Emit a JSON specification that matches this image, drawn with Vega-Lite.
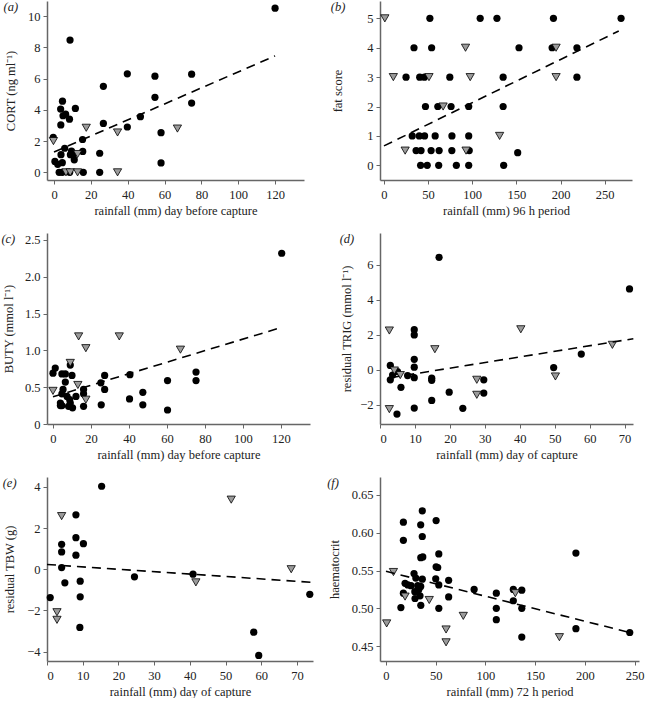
{
  "$schema": "https://vega.github.io/schema/vega-lite/v6.json",
  "padding": {"left": 1, "top": 0, "right": 0, "bottom": 0},
  "background": "white",
  "columns": 2,
  "spacing": {"row": 15, "column": 10},
  "datasets": {
    "a": [
      {"x":120,"y":10.5,"g":"c"},{"x":8.7,"y":8.46,"g":"c"},{"x":26.8,"y":5.5,"g":"c"},{"x":39.8,"y":6.3,"g":"c"},{"x":54.8,"y":6.15,"g":"c"},{"x":74.7,"y":6.28,"g":"c"},{"x":54.8,"y":4.8,"g":"c"},{"x":74.7,"y":4.43,"g":"c"},{"x":46.9,"y":3.56,"g":"c"},{"x":39.8,"y":2.9,"g":"c"},{"x":26.8,"y":3.13,"g":"c"},{"x":58.1,"y":2.54,"g":"c"},{"x":58.1,"y":0.6,"g":"c"},{"x":24.8,"y":1.22,"g":"c"},{"x":24.8,"y":0,"g":"c"},{"x":15.9,"y":0,"g":"c"},{"x":4.6,"y":4.55,"g":"c"},{"x":3.6,"y":4.05,"g":"c"},{"x":4.9,"y":3.62,"g":"c"},{"x":6.3,"y":3.72,"g":"c"},{"x":8.4,"y":3.4,"g":"c"},{"x":11.6,"y":4.09,"g":"c"},{"x":3.7,"y":3.03,"g":"c"},{"x":-0.4,"y":2.24,"g":"c"},{"x":15.5,"y":2.1,"g":"c"},{"x":5.8,"y":1.54,"g":"c"},{"x":3.8,"y":1.13,"g":"c"},{"x":9.5,"y":1.36,"g":"c"},{"x":8.9,"y":1.13,"g":"c"},{"x":11,"y":0.8,"g":"c"},{"x":15.6,"y":1.34,"g":"c"},{"x":0.5,"y":0.7,"g":"c"},{"x":2,"y":0.51,"g":"c"},{"x":4.5,"y":0.62,"g":"c"},{"x":2.8,"y":0,"g":"c"},{"x":4.5,"y":0,"g":"c"},{"x":8.5,"y":0,"g":"c"},{"x":10.4,"y":1.1,"g":"c"},
      {"x":-0.3,"y":2.0,"g":"t"},{"x":17.5,"y":2.85,"g":"t"},{"x":34.5,"y":2.55,"g":"t"},{"x":67,"y":2.8,"g":"t"},{"x":6.5,"y":0,"g":"t"},{"x":8.8,"y":0,"g":"t"},{"x":12.8,"y":0,"g":"t"},{"x":34.5,"y":0,"g":"t"},{"x":12.8,"y":1.17,"g":"t"}
    ],
    "af": [{"x":0,"y":1.3},{"x":120,"y":7.45}],
    "b": [
      {"x":52,"y":5,"g":"c"},{"x":109,"y":5,"g":"c"},{"x":128,"y":5,"g":"c"},{"x":192,"y":5,"g":"c"},{"x":268.6,"y":5,"g":"c"},
      {"x":34,"y":4,"g":"c"},{"x":54,"y":4,"g":"c"},{"x":153,"y":4,"g":"c"},{"x":190.5,"y":4,"g":"c"},{"x":218.6,"y":4,"g":"c"},
      {"x":25,"y":3,"g":"c"},{"x":40.5,"y":3,"g":"c"},{"x":45.8,"y":3,"g":"c"},{"x":74.6,"y":3,"g":"c"},{"x":135,"y":3,"g":"c"},{"x":218.6,"y":3,"g":"c"},
      {"x":47,"y":2,"g":"c"},{"x":61,"y":2,"g":"c"},{"x":76,"y":2,"g":"c"},{"x":96,"y":2,"g":"c"},{"x":135,"y":2,"g":"c"},
      {"x":32,"y":1,"g":"c"},{"x":40,"y":1,"g":"c"},{"x":46,"y":1,"g":"c"},{"x":58,"y":1,"g":"c"},{"x":77,"y":1,"g":"c"},{"x":96,"y":1,"g":"c"},
      {"x":36.4,"y":0.5,"g":"c"},{"x":42,"y":0.5,"g":"c"},{"x":53.4,"y":0.5,"g":"c"},{"x":62.5,"y":0.5,"g":"c"},{"x":76.9,"y":0.5,"g":"c"},{"x":96.6,"y":0.5,"g":"c"},{"x":151.5,"y":0.43,"g":"c"},
      {"x":41.5,"y":0,"g":"c"},{"x":49,"y":0,"g":"c"},{"x":62,"y":0,"g":"c"},{"x":82,"y":0,"g":"c"},{"x":96,"y":0,"g":"c"},{"x":135.6,"y":0,"g":"c"},
      {"x":1,"y":5,"g":"t"},{"x":92.4,"y":4,"g":"t"},{"x":195,"y":4,"g":"t"},{"x":10.6,"y":3,"g":"t"},{"x":51,"y":3,"g":"t"},{"x":97.7,"y":3,"g":"t"},{"x":195,"y":3,"g":"t"},{"x":67,"y":2,"g":"t"},{"x":131,"y":1,"g":"t"},{"x":24,"y":0.5,"g":"t"},{"x":93,"y":0.5,"g":"t"}
    ],
    "bf": [{"x":0,"y":0.66},{"x":266,"y":4.57}],
    "c": [
      {"x":120.4,"y":2.32,"g":"c"},{"x":75.3,"y":0.705,"g":"c"},{"x":75.3,"y":0.59,"g":"c"},{"x":60.3,"y":0.59,"g":"c"},{"x":60.3,"y":0.19,"g":"c"},{"x":47.3,"y":0.43,"g":"c"},{"x":47.3,"y":0.26,"g":"c"},{"x":40.5,"y":0.67,"g":"c"},{"x":40.3,"y":0.34,"g":"c"},{"x":27.2,"y":0.66,"g":"c"},{"x":25.2,"y":0.56,"g":"c"},{"x":27.2,"y":0.47,"g":"c"},{"x":25.4,"y":0.26,"g":"c"},{"x":1.2,"y":0.76,"g":"c"},{"x":0,"y":0.69,"g":"c"},{"x":4.7,"y":0.68,"g":"c"},{"x":6.5,"y":0.68,"g":"c"},{"x":10,"y":0.66,"g":"c"},{"x":6.5,"y":0.57,"g":"c"},{"x":5.3,"y":0.47,"g":"c"},{"x":4.7,"y":0.41,"g":"c"},{"x":7.4,"y":0.375,"g":"c"},{"x":12.1,"y":0.375,"g":"c"},{"x":3.9,"y":0.285,"g":"c"},{"x":9.1,"y":0.285,"g":"c"},{"x":4.7,"y":0.25,"g":"c"},{"x":8.2,"y":0.24,"g":"c"},{"x":10.3,"y":0.22,"g":"c"},{"x":16.1,"y":0.47,"g":"c"},{"x":16.1,"y":0.41,"g":"c"},{"x":16.1,"y":0.24,"g":"c"},{"x":3.9,"y":0.25,"g":"c"},{"x":8.8,"y":0.33,"g":"c"},{"x":9.1,"y":0.8,"g":"c"},
      {"x":13.5,"y":1.19,"g":"t"},{"x":34.9,"y":1.19,"g":"t"},{"x":17.3,"y":1.03,"g":"t"},{"x":67.1,"y":1.01,"g":"t"},{"x":9.1,"y":0.83,"g":"t"},{"x":13.1,"y":0.53,"g":"t"},{"x":0,"y":0.45,"g":"t"},{"x":17.3,"y":0.33,"g":"t"}
    ],
    "cf": [{"x":0,"y":0.37},{"x":120,"y":1.31}],
    "d": [
      {"x":16.9,"y":6.44,"g":"c"},{"x":71.4,"y":4.63,"g":"c"},{"x":57.6,"y":0.9,"g":"c"},{"x":49.7,"y":0.13,"g":"c"},{"x":29.7,"y":-0.57,"g":"c"},{"x":29.7,"y":-1.33,"g":"c"},{"x":19.8,"y":-1.28,"g":"c"},{"x":23.7,"y":-2.2,"g":"c"},{"x":14.8,"y":-0.48,"g":"c"},{"x":14.8,"y":-0.6,"g":"c"},{"x":14.8,"y":-1.75,"g":"c"},{"x":9.8,"y":2.3,"g":"c"},{"x":9.8,"y":2.0,"g":"c"},{"x":9.8,"y":0.6,"g":"c"},{"x":9.8,"y":0.15,"g":"c"},{"x":9.8,"y":-0.45,"g":"c"},{"x":9.8,"y":-2.19,"g":"c"},{"x":2.95,"y":0.25,"g":"c"},{"x":2.95,"y":-0.57,"g":"c"},{"x":5.0,"y":-0.1,"g":"c"},{"x":3.6,"y":-0.3,"g":"c"},{"x":6,"y":-1.0,"g":"c"},{"x":7.9,"y":-0.33,"g":"c"},{"x":4.86,"y":-2.53,"g":"c"},
      {"x":2.67,"y":2.25,"g":"t"},{"x":2.67,"y":-2.25,"g":"t"},{"x":4.1,"y":-0.04,"g":"t"},{"x":5.8,"y":-0.3,"g":"t"},{"x":15.7,"y":1.18,"g":"t"},{"x":27.7,"y":-0.57,"g":"t"},{"x":27.7,"y":-1.43,"g":"t"},{"x":40.3,"y":2.32,"g":"t"},{"x":50.2,"y":-0.38,"g":"t"},{"x":66.5,"y":1.43,"g":"t"}
    ],
    "df": [{"x":3,"y":-0.45},{"x":72.5,"y":1.78}],
    "e": [
      {"x":15.3,"y":4.03,"g":"c"},{"x":8.1,"y":2.64,"g":"c"},{"x":8.1,"y":1.53,"g":"c"},{"x":10.2,"y":1.24,"g":"c"},{"x":8.1,"y":0.68,"g":"c"},{"x":4.1,"y":1.21,"g":"c"},{"x":4.1,"y":0.84,"g":"c"},{"x":4.1,"y":0.08,"g":"c"},{"x":5,"y":-0.66,"g":"c"},{"x":9.3,"y":-0.58,"g":"c"},{"x":9.3,"y":-1.34,"g":"c"},{"x":9.2,"y":-2.83,"g":"c"},{"x":0.9,"y":-1.38,"g":"c"},{"x":24.5,"y":-0.37,"g":"c"},{"x":40.9,"y":-0.24,"g":"c"},{"x":73.6,"y":-1.22,"g":"c"},{"x":57.9,"y":-3.06,"g":"c"},{"x":59.3,"y":-4.19,"g":"c"},
      {"x":4.1,"y":2.58,"g":"t"},{"x":2.8,"y":-2.09,"g":"t"},{"x":2.8,"y":-2.46,"g":"t"},{"x":41.7,"y":-0.64,"g":"t"},{"x":51.6,"y":3.38,"g":"t"},{"x":68.4,"y":0,"g":"t"}
    ],
    "ef": [{"x":0,"y":0.23},{"x":74.5,"y":-0.64}],
    "f": [
      {"x":36.5,"y":0.629,"g":"c"},{"x":17.5,"y":0.614,"g":"c"},{"x":34.9,"y":0.6105,"g":"c"},{"x":50.4,"y":0.616,"g":"c"},{"x":17.5,"y":0.59,"g":"c"},{"x":36.5,"y":0.595,"g":"c"},{"x":35,"y":0.567,"g":"c"},{"x":37,"y":0.568,"g":"c"},{"x":53.1,"y":0.572,"g":"c"},{"x":50.4,"y":0.555,"g":"c"},{"x":52,"y":0.554,"g":"c"},{"x":28.2,"y":0.546,"g":"c"},{"x":30,"y":0.54,"g":"c"},{"x":19.2,"y":0.533,"g":"c"},{"x":36.5,"y":0.5385,"g":"c"},{"x":50,"y":0.539,"g":"c"},{"x":63,"y":0.537,"g":"c"},{"x":25.2,"y":0.53,"g":"c"},{"x":31.9,"y":0.53,"g":"c"},{"x":33,"y":0.525,"g":"c"},{"x":29,"y":0.522,"g":"c"},{"x":53.1,"y":0.531,"g":"c"},{"x":17.5,"y":0.52,"g":"c"},{"x":29.2,"y":0.513,"g":"c"},{"x":34.2,"y":0.5165,"g":"c"},{"x":35,"y":0.504,"g":"c"},{"x":63,"y":0.515,"g":"c"},{"x":15,"y":0.501,"g":"c"},{"x":53.1,"y":0.5,"g":"c"},{"x":22,"y":0.531,"g":"c"},{"x":34.9,"y":0.529,"g":"c"},{"x":88.6,"y":0.525,"g":"c"},{"x":110.9,"y":0.52,"g":"c"},{"x":110.9,"y":0.5,"g":"c"},{"x":110.9,"y":0.485,"g":"c"},{"x":128,"y":0.525,"g":"c"},{"x":128,"y":0.51,"g":"c"},{"x":136.5,"y":0.524,"g":"c"},{"x":136.5,"y":0.5,"g":"c"},{"x":136.5,"y":0.462,"g":"c"},{"x":190.9,"y":0.573,"g":"c"},{"x":190.9,"y":0.473,"g":"c"},{"x":245,"y":0.468,"g":"c"},
      {"x":0.7,"y":0.48,"g":"t"},{"x":7.5,"y":0.548,"g":"t"},{"x":19.2,"y":0.5155,"g":"t"},{"x":43.5,"y":0.511,"g":"t"},{"x":60.4,"y":0.472,"g":"t"},{"x":60.4,"y":0.455,"g":"t"},{"x":77.7,"y":0.49,"g":"t"},{"x":130,"y":0.52,"g":"t"},{"x":174.3,"y":0.4618,"g":"t"}
    ],
    "ff": [{"x":0,"y":0.549},{"x":245,"y":0.468}]
  },
  "concat": [
    {
      "title": {"text": "(a)"},
      "width": 257, "height": 179,
      "encoding": {
        "x": {"field": "x", "type": "quantitative", "scale": {"domain": [-3.8, 135.7], "nice": false, "zero": false}, "axis": {"title": "rainfall (mm) day before capture", "values": [0,20,40,60,80,100,120]}},
        "y": {"field": "y", "type": "quantitative", "scale": {"domain": [-0.49, 10.96], "nice": false, "zero": false}, "axis": {"title": "CORT (ng ml\u207b\u00b9)", "values": [0,2,4,6,8,10], "titlePadding": 10}}
      },
      "layer": [
        {"data": {"name": "a"}, "transform": [{"filter": "datum.g == 'c'"}], "mark": {"type": "point", "shape": "circle", "filled": true, "color": "black", "size": 52, "opacity": 1}},
        {"data": {"name": "a"}, "transform": [{"filter": "datum.g == 't'"}], "mark": {"type": "point", "shape": "triangle-down", "filled": true, "fill": "#9b9b9b", "stroke": "black", "strokeWidth": 0.8, "size": 68, "opacity": 1}},
        {"data": {"name": "af"}, "mark": {"type": "line", "color": "black", "strokeWidth": 1.6, "strokeDash": [9, 6]}}
      ]
    },
    {
      "title": {"text": "(b)"},
      "width": 252, "height": 179,
      "encoding": {
        "x": {"field": "x", "type": "quantitative", "scale": {"domain": [-4.5, 281], "nice": false, "zero": false}, "axis": {"title": "rainfall (mm) 96 h period", "values": [0,50,100,150,200,250]}},
        "y": {"field": "y", "type": "quantitative", "scale": {"domain": [-0.5, 5.59], "nice": false, "zero": false}, "axis": {"title": "fat score", "values": [0,1,2,3,4,5], "titlePadding": 22}}
      },
      "layer": [
        {"data": {"name": "b"}, "transform": [{"filter": "datum.g == 'c'"}], "mark": {"type": "point", "shape": "circle", "filled": true, "color": "black", "size": 52, "opacity": 1}},
        {"data": {"name": "b"}, "transform": [{"filter": "datum.g == 't'"}], "mark": {"type": "point", "shape": "triangle-down", "filled": true, "fill": "#9b9b9b", "stroke": "black", "strokeWidth": 0.8, "size": 68, "opacity": 1}},
        {"data": {"name": "bf"}, "mark": {"type": "line", "color": "black", "strokeWidth": 1.6, "strokeDash": [9, 6]}}
      ]
    },
    {
      "title": {"text": "(c)"},
      "width": 263, "height": 191,
      "encoding": {
        "x": {"field": "x", "type": "quantitative", "scale": {"domain": [-3.15, 135.3], "nice": false, "zero": false}, "axis": {"title": "rainfall (mm) day before capture", "values": [0,20,40,60,80,100,120]}},
        "y": {"field": "y", "type": "quantitative", "scale": {"domain": [0, 2.595], "nice": false, "zero": false}, "axis": {"title": "BUTY (mmol l\u207b\u00b9)", "values": [0,0.5,1,1.5,2,2.5], "labelExpr": "datum.value == 0 ? '0' : format(datum.value, '.1f')", "titlePadding": 9}}
      },
      "layer": [
        {"data": {"name": "c"}, "transform": [{"filter": "datum.g == 'c'"}], "mark": {"type": "point", "shape": "circle", "filled": true, "color": "black", "size": 52, "opacity": 1}},
        {"data": {"name": "c"}, "transform": [{"filter": "datum.g == 't'"}], "mark": {"type": "point", "shape": "triangle-down", "filled": true, "fill": "#9b9b9b", "stroke": "black", "strokeWidth": 0.8, "size": 68, "opacity": 1}},
        {"data": {"name": "cf"}, "mark": {"type": "line", "color": "black", "strokeWidth": 1.6, "strokeDash": [9, 6]}}
      ]
    },
    {
      "title": {"text": "(d)"},
      "width": 253, "height": 191,
      "encoding": {
        "x": {"field": "x", "type": "quantitative", "scale": {"domain": [0, 72.4], "nice": false, "zero": false}, "axis": {"title": "rainfall (mm) day of capture", "values": [0,10,20,30,40,50,60,70]}},
        "y": {"field": "y", "type": "quantitative", "scale": {"domain": [-3.1, 7.83], "nice": false, "zero": false}, "axis": {"title": "residual TRIG (mmol l\u207b\u00b9)", "values": [-2,0,2,4,6], "titlePadding": 6}}
      },
      "layer": [
        {"data": {"name": "d"}, "transform": [{"filter": "datum.g == 'c'"}], "mark": {"type": "point", "shape": "circle", "filled": true, "color": "black", "size": 52, "opacity": 1}},
        {"data": {"name": "d"}, "transform": [{"filter": "datum.g == 't'"}], "mark": {"type": "point", "shape": "triangle-down", "filled": true, "fill": "#9b9b9b", "stroke": "black", "strokeWidth": 0.8, "size": 68, "opacity": 1}},
        {"data": {"name": "df"}, "mark": {"type": "line", "color": "black", "strokeWidth": 1.6, "strokeDash": [9, 6]}}
      ]
    },
    {
      "title": {"text": "(e)"},
      "width": 266, "height": 184,
      "encoding": {
        "x": {"field": "x", "type": "quantitative", "scale": {"domain": [0, 74.5], "nice": false, "zero": false}, "axis": {"title": "rainfall (mm) day of capture", "values": [0,10,20,30,40,50,60,70]}},
        "y": {"field": "y", "type": "quantitative", "scale": {"domain": [-4.46, 4.48], "nice": false, "zero": false}, "axis": {"title": "residual TBW (g)", "values": [-4,-2,0,2,4], "titlePadding": 10}}
      },
      "layer": [
        {"data": {"name": "e"}, "transform": [{"filter": "datum.g == 'c'"}], "mark": {"type": "point", "shape": "circle", "filled": true, "color": "black", "size": 52, "opacity": 1}},
        {"data": {"name": "e"}, "transform": [{"filter": "datum.g == 't'"}], "mark": {"type": "point", "shape": "triangle-down", "filled": true, "fill": "#9b9b9b", "stroke": "black", "strokeWidth": 0.8, "size": 68, "opacity": 1}},
        {"data": {"name": "ef"}, "mark": {"type": "line", "color": "black", "strokeWidth": 1.6, "strokeDash": [9, 6]}}
      ]
    },
    {
      "title": {"text": "(f)"},
      "width": 259, "height": 184,
      "encoding": {
        "x": {"field": "x", "type": "quantitative", "scale": {"domain": [-6, 254.3], "nice": false, "zero": false}, "axis": {"title": "rainfall (mm) 72 h period", "values": [0,50,100,150,200,250]}},
        "y": {"field": "y", "type": "quantitative", "scale": {"domain": [0.4303, 0.6737], "nice": false, "zero": false}, "axis": {"title": "haematocrit", "values": [0.45,0.5,0.55,0.6,0.65], "format": ".2f", "titlePadding": 10}}
      },
      "layer": [
        {"data": {"name": "f"}, "transform": [{"filter": "datum.g == 'c'"}], "mark": {"type": "point", "shape": "circle", "filled": true, "color": "black", "size": 52, "opacity": 1}},
        {"data": {"name": "f"}, "transform": [{"filter": "datum.g == 't'"}], "mark": {"type": "point", "shape": "triangle-down", "filled": true, "fill": "#9b9b9b", "stroke": "black", "strokeWidth": 0.8, "size": 68, "opacity": 1}},
        {"data": {"name": "ff"}, "mark": {"type": "line", "color": "black", "strokeWidth": 1.6, "strokeDash": [9, 6]}}
      ]
    }
  ],
  "config": {
    "view": {"stroke": null},
    "axis": {
      "grid": false,
      "domainColor": "#666",
      "domainWidth": 1.5,
      "tickColor": "#666",
      "tickWidth": 1,
      "tickSize": 4,
      "labelFont": "Liberation Serif",
      "labelFontSize": 12.5,
      "labelColor": "#222",
      "labelPadding": 3,
      "titleFont": "Liberation Serif",
      "titleFontSize": 12.5,
      "titleFontWeight": "normal",
      "titleColor": "#222"
    },
    "axisX": {"labelPadding": 4, "titlePadding": 4},
    "title": {
      "anchor": "start",
      "frame": "bounds",
      "baseline": "top",
      "offset": 0,
      "dx": -1,
      "dy": 16,
      "font": "Liberation Serif",
      "fontSize": 12.5,
      "fontWeight": "normal",
      "fontStyle": "italic",
      "color": "#222"
    }
  }
}
